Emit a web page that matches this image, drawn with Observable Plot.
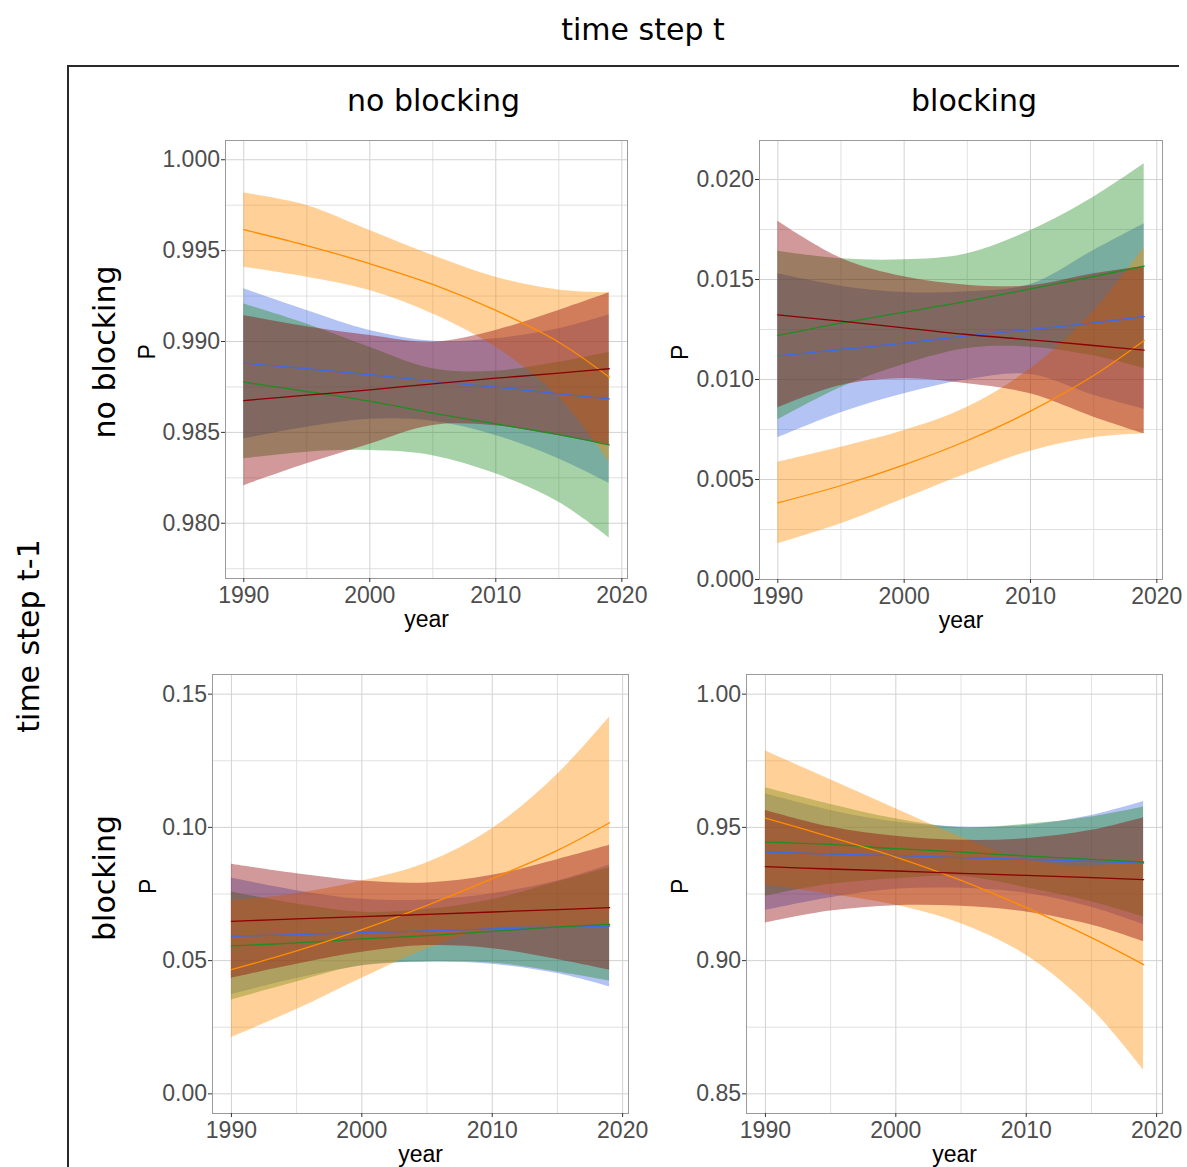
<!DOCTYPE html>
<html>
<head>
<meta charset="utf-8">
<script src="https://cdn.jsdelivr.net/npm/d3@7"></script>
<script src="https://cdn.jsdelivr.net/npm/@observablehq/plot@0.6"></script>
<style>
  body { margin: 0; background: #fff; }
  #page { position: relative; width: 1187px; height: 1167px; overflow: hidden; background: #fff; }
  #page svg { position: absolute; }
</style>
</head>
<body>
<div id="page"></div>
<script>
// ---------- shared ----------
const years = [1990, 1995, 2000, 2005, 2010, 2015, 2019];
const seriesKeys = ["blue", "green", "orange", "darkred"];            // drawing order
const seriesColors = ["#4169E1", "#228B22", "#FF8C00", "#8B0000"];
const xTicks = [1990, 2000, 2010, 2020];
const xMinor = [1995, 2005, 2015];

const colTitles = ["no blocking", "blocking"];
const rowTitles = ["no blocking", "blocking"];
const topTitle = "time step t";
const sideTitle = "time step t-1";

// ---------- panel: t-1 no blocking -> t no blocking ----------
const nnBlueFit = [0.98881, 0.98850, 0.98817, 0.98782, 0.98749, 0.98712, 0.98684];
const nnBlueLo  = [0.98464, 0.98528, 0.98572, 0.98561, 0.98483, 0.98354, 0.98220];
const nnBlueHi  = [0.99290, 0.99171, 0.99061, 0.99002, 0.99015, 0.99070, 0.99147];
const nnGreenFit = [0.98776, 0.98725, 0.98672, 0.98606, 0.98547, 0.98488, 0.98431];
const nnGreenLo  = [0.98354, 0.98391, 0.98400, 0.98372, 0.98272, 0.98116, 0.97919];
const nnGreenHi  = [0.99207, 0.99097, 0.98969, 0.98850, 0.98837, 0.98886, 0.98941];
const nnOrangeFit = [0.99615, 0.99528, 0.99428, 0.99314, 0.99171, 0.98996, 0.98804];
const nnOrangeLo  = [0.99409, 0.99354, 0.99281, 0.99152, 0.98969, 0.98694, 0.98336];
const nnOrangeHi  = [0.99817, 0.99749, 0.99611, 0.99473, 0.99354, 0.99284, 0.99268];
const nnRedFit = [0.98675, 0.98705, 0.98734, 0.98767, 0.98798, 0.98826, 0.98850];
const nnRedLo  = [0.98207, 0.98327, 0.98435, 0.98538, 0.98536, 0.98481, 0.98431];
const nnRedHi  = [0.99143, 0.99081, 0.99033, 0.98996, 0.99061, 0.99171, 0.99268];
const nnYTicks = [0.980, 0.985, 0.990, 0.995, 1.000];
const nnYMinor = [0.9775, 0.9825, 0.9875, 0.9925, 0.9975];

// ---------- panel: t-1 no blocking -> t blocking ----------
const nbBlueFit = [0.011183, 0.011500, 0.011817, 0.012183, 0.012500, 0.012833, 0.013150];
const nbBlueLo  = [0.007083, 0.008333, 0.009283, 0.009983, 0.010250, 0.009217, 0.008517];
const nbBlueHi  = [0.015283, 0.014667, 0.014350, 0.014383, 0.014750, 0.016450, 0.017783];
const nbGreenFit = [0.012200, 0.012817, 0.013367, 0.013917, 0.014533, 0.015150, 0.015667];
const nbGreenLo  = [0.007983, 0.009600, 0.010750, 0.011550, 0.011617, 0.011183, 0.010550];
const nbGreenHi  = [0.016417, 0.016033, 0.015983, 0.016283, 0.017450, 0.019117, 0.020783];
const nbOrangeFit = [0.003833, 0.004700, 0.005733, 0.006950, 0.008417, 0.010200, 0.011950];
const nbOrangeLo  = [0.001783, 0.002783, 0.004033, 0.005283, 0.006417, 0.007083, 0.007283];
const nbOrangeHi  = [0.005867, 0.006617, 0.007450, 0.008617, 0.010533, 0.013417, 0.016617];
const nbRedFit = [0.013233, 0.012917, 0.012583, 0.012250, 0.011983, 0.011700, 0.011467];
const nbRedLo  = [0.008583, 0.009700, 0.010033, 0.009783, 0.009283, 0.008117, 0.007283];
const nbRedHi  = [0.017917, 0.016067, 0.015133, 0.014717, 0.014683, 0.015283, 0.015650];
const nbYTicks = [0.000, 0.005, 0.010, 0.015, 0.020];
const nbYMinor = [0.0025, 0.0075, 0.0125, 0.0175];

// ---------- panel: t-1 blocking -> t no blocking ----------
const bnBlueFit = [0.05913, 0.05975, 0.06050, 0.06113, 0.06188, 0.06250, 0.06300];
const bnBlueLo  = [0.03725, 0.04325, 0.04800, 0.04950, 0.04863, 0.04513, 0.04013];
const bnBlueHi  = [0.08100, 0.07625, 0.07300, 0.07275, 0.07513, 0.07988, 0.08588];
const bnGreenFit = [0.05550, 0.05663, 0.05813, 0.05938, 0.06100, 0.06263, 0.06363];
const bnGreenLo  = [0.03525, 0.04200, 0.04813, 0.04950, 0.04913, 0.04575, 0.04238];
const bnGreenHi  = [0.07575, 0.07125, 0.06813, 0.06925, 0.07288, 0.07950, 0.08488];
const bnOrangeFit = [0.04663, 0.05363, 0.06163, 0.07075, 0.08075, 0.09138, 0.10175];
const bnOrangeLo  = [0.02113, 0.03163, 0.04338, 0.05450, 0.06200, 0.06288, 0.06213];
const bnOrangeHi  = [0.07238, 0.07513, 0.07988, 0.08675, 0.09950, 0.11988, 0.14138];
const bnRedFit = [0.06475, 0.06563, 0.06650, 0.06738, 0.06825, 0.06913, 0.06988];
const bnRedLo  = [0.04338, 0.04863, 0.05313, 0.05563, 0.05450, 0.05038, 0.04638];
const bnRedHi  = [0.08613, 0.08263, 0.07988, 0.07913, 0.08200, 0.08788, 0.09325];
const bnYTicks = [0.00, 0.05, 0.10, 0.15];
const bnYMinor = [0.025, 0.075, 0.125];

// ---------- panel: t-1 blocking -> t blocking ----------
const bbBlueFit = [0.94075, 0.94000, 0.93938, 0.93863, 0.93800, 0.93725, 0.93663];
const bbBlueLo  = [0.91888, 0.92363, 0.92675, 0.92713, 0.92525, 0.92000, 0.91350];
const bbBlueHi  = [0.96263, 0.95638, 0.95200, 0.95013, 0.95075, 0.95450, 0.95975];
const bbGreenFit = [0.94450, 0.94363, 0.94200, 0.94075, 0.93925, 0.93800, 0.93700];
const bbGreenLo  = [0.92413, 0.92863, 0.93075, 0.93163, 0.92738, 0.92213, 0.91638];
const bbGreenHi  = [0.96488, 0.95863, 0.95325, 0.94988, 0.95113, 0.95388, 0.95763];
const bbOrangeFit = [0.95350, 0.94638, 0.93888, 0.93013, 0.91988, 0.90863, 0.89850];
const bbOrangeLo  = [0.92838, 0.92488, 0.92075, 0.91388, 0.90200, 0.88200, 0.85888];
const bbOrangeHi  = [0.97863, 0.96788, 0.95700, 0.94638, 0.93775, 0.93525, 0.93813];
const bbRedFit = [0.93525, 0.93438, 0.93363, 0.93275, 0.93200, 0.93113, 0.93038];
const bbRedLo  = [0.91413, 0.91863, 0.92063, 0.92038, 0.91825, 0.91338, 0.90713];
const bbRedHi  = [0.95638, 0.95013, 0.94663, 0.94513, 0.94575, 0.94888, 0.95363];
const bbYTicks = [0.85, 0.90, 0.95, 1.00];
const bbYMinor = [0.875, 0.925, 0.975];

// ---------- drawing ----------
const page = document.getElementById("page");
const xDomain = [1988.55, 2020.45];

function panel({fits, los, his, frame, yDomain, yTicks, yMinor, yFormat, pDx}) {
  const mL = 100, mT = 20, mR = 35, mB = 55;
  const w = frame.right - frame.left, h = frame.bottom - frame.top;
  const rows = [];
  seriesKeys.forEach((k, i) => years.forEach((yr, j) =>
    rows.push({series: k, year: yr, fit: fits[i][j], lo: los[i][j], hi: his[i][j]})));
  const bySeries = k => rows.filter(r => r.series === k);
  const marks = [
    Plot.gridX(xMinor, {stroke: "#dedede", strokeOpacity: 1, strokeWidth: 0.9}),
    Plot.gridY(yMinor, {stroke: "#dedede", strokeOpacity: 1, strokeWidth: 0.9}),
    Plot.gridX(xTicks, {stroke: "#d2d2d2", strokeOpacity: 1, strokeWidth: 1}),
    Plot.gridY(yTicks, {stroke: "#d2d2d2", strokeOpacity: 1, strokeWidth: 1}),
    ...seriesKeys.map((k, i) => Plot.areaY(bySeries(k), {
      x: "year", y1: "lo", y2: "hi", fill: seriesColors[i], fillOpacity: 0.4, curve: "catmull-rom"
    })),
    ...seriesKeys.map((k, i) => Plot.line(bySeries(k), {
      x: "year", y: "fit", stroke: seriesColors[i], strokeWidth: 1.3, curve: "catmull-rom"
    })),
    Plot.frame({stroke: "#9a9a9a", strokeWidth: 1}),
    Plot.axisX(xTicks, {tickSize: 4, tickPadding: 4, tickFormat: d => String(d),
      fill: "#4d4d4d", stroke: "#333", label: null}),
    Plot.axisY(yTicks, {tickSize: 4, tickPadding: 1.5, tickFormat: yFormat,
      fill: "#4d4d4d", stroke: "#333", label: null}),
    Plot.text(["P"], {frameAnchor: "left", dx: pDx, rotate: -90, lineAnchor: "bottom",
      fill: "#000", fontSize: 23}),
    Plot.text(["year"], {frameAnchor: "bottom", dy: 48, lineAnchor: "bottom",
      fill: "#000", fontSize: 23})
  ];
  const svg = Plot.plot({
    width: w + mL + mR, height: h + mT + mB,
    marginLeft: mL, marginRight: mR, marginTop: mT, marginBottom: mB,
    x: {domain: xDomain},
    y: {domain: yDomain},
    style: {fontFamily: "'Liberation Sans', Arial, Helvetica, sans-serif", fontSize: "23px",
            background: "transparent", overflow: "visible"},
    marks
  });
  svg.style.left = (frame.left - mL) + "px";
  svg.style.top = (frame.top - mT) + "px";
  page.append(svg);
}

panel({
  fits: [nnBlueFit, nnGreenFit, nnOrangeFit, nnRedFit],
  los: [nnBlueLo, nnGreenLo, nnOrangeLo, nnRedLo],
  his: [nnBlueHi, nnGreenHi, nnOrangeHi, nnRedHi],
  frame: {left: 225, right: 627, top: 140, bottom: 578},
  yDomain: [0.97696, 1.00106], yTicks: nnYTicks, yMinor: nnYMinor,
  yFormat: d3.format(".3f"), pDx: -71
});
panel({
  fits: [nbBlueFit, nbGreenFit, nbOrangeFit, nbRedFit],
  los: [nbBlueLo, nbGreenLo, nbOrangeLo, nbRedLo],
  his: [nbBlueHi, nbGreenHi, nbOrangeHi, nbRedHi],
  frame: {left: 759, right: 1162, top: 140, bottom: 579},
  yDomain: [0, 0.02195], yTicks: nbYTicks, yMinor: nbYMinor,
  yFormat: d3.format(".3f"), pDx: -72
});
panel({
  fits: [bnBlueFit, bnGreenFit, bnOrangeFit, bnRedFit],
  los: [bnBlueLo, bnGreenLo, bnOrangeLo, bnRedLo],
  his: [bnBlueHi, bnGreenHi, bnOrangeHi, bnRedHi],
  frame: {left: 212, right: 628, top: 674, bottom: 1113},
  yDomain: [-0.007375, 0.157375], yTicks: bnYTicks, yMinor: bnYMinor,
  yFormat: d3.format(".2f"), pDx: -57
});
panel({
  fits: [bbBlueFit, bbGreenFit, bbOrangeFit, bbRedFit],
  los: [bbBlueLo, bbGreenLo, bbOrangeLo, bbRedLo],
  his: [bbBlueHi, bbGreenHi, bbOrangeHi, bbRedHi],
  frame: {left: 746, right: 1162, top: 674, bottom: 1113},
  yDomain: [0.842625, 1.007375], yTicks: bbYTicks, yMinor: bbYMinor,
  yFormat: d3.format(".2f"), pDx: -59
});

// ---------- facet strip titles and separator lines ----------
const ov = d3.create("svg")
  .attr("width", 1187).attr("height", 1167)
  .style("left", "0px").style("top", "0px")
  .style("font-family", "'DejaVu Sans', sans-serif")
  .style("pointer-events", "none");
ov.append("line").attr("x1", 67).attr("x2", 1179).attr("y1", 66).attr("y2", 66)
  .attr("stroke", "#2a2a2a").attr("stroke-width", 2);
ov.append("line").attr("x1", 68).attr("x2", 68).attr("y1", 65).attr("y2", 1167)
  .attr("stroke", "#2a2a2a").attr("stroke-width", 2);
ov.append("text").attr("x", 643).attr("y", 40).attr("text-anchor", "middle")
  .attr("font-size", 30).attr("fill", "#000").text(topTitle);
[[433.5, colTitles[0]], [974, colTitles[1]]].forEach(([x, t]) =>
  ov.append("text").attr("x", x).attr("y", 111).attr("text-anchor", "middle")
    .attr("font-size", 30).attr("fill", "#000").text(t));
[[38.5, 636, sideTitle], [115, 352, rowTitles[0]], [115, 878, rowTitles[1]]].forEach(([x, y, t]) =>
  ov.append("text").attr("transform", `translate(${x},${y}) rotate(-90)`)
    .attr("text-anchor", "middle").attr("font-size", 30).attr("fill", "#000").text(t));
page.append(ov.node());
</script>
</body>
</html>
